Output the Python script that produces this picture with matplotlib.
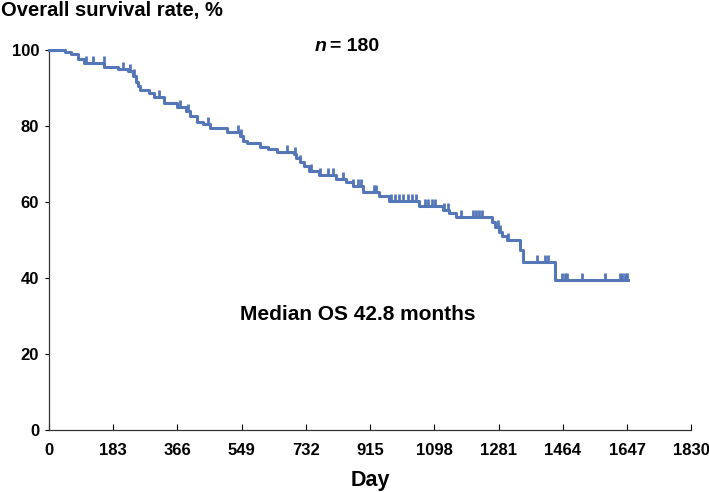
import numpy as np
import matplotlib
matplotlib.use("Agg")
import matplotlib.pyplot as plt

# Kaplan-Meier steps (day, survival % after that day)
step_days = [0, 45, 63, 82, 101, 158, 196, 224, 240, 248, 254, 260, 285, 300, 328,
             365, 390, 403, 422, 440, 459, 507, 544, 552, 564, 600, 625, 649, 697,
             705, 714, 728, 742, 770, 819, 845, 866, 895, 940, 969, 1054, 1122, 1140,
             1159, 1263, 1272, 1282, 1292, 1306, 1343, 1351, 1442, 1649]
step_surv = [100, 99.4, 98.9, 97.8, 96.7, 95.6, 95.0, 94.4, 93.3, 91.6, 90.5, 89.4,
             88.8, 87.7, 86.0, 85.0, 83.9, 82.8, 81.2, 80.6, 79.5, 78.4, 77.3, 76.2,
             75.6, 74.5, 73.9, 73.3, 72.7, 71.6, 70.5, 69.4, 68.3, 67.1, 66.0, 65.4,
             64.3, 62.7, 61.5, 60.3, 59.1, 57.9, 57.2, 56.0, 54.8, 53.5, 52.2, 51.0,
             50.0, 47.5, 44.2, 39.5, 39.5]

# censored observations (day)
censor_days = [105, 125, 156, 210, 232, 243, 314, 374, 396, 453, 540, 547, 677, 700,
               714, 748, 771, 796, 810, 838, 866, 881, 889, 926, 932, 975, 987, 998,
               1010, 1022, 1033, 1045, 1070, 1080, 1090, 1100, 1125, 1136, 1173, 1207,
               1216, 1226, 1235, 1278, 1286, 1309, 1391, 1413, 1422, 1462, 1470, 1476,
               1518, 1584, 1626, 1632, 1640, 1646]

xticks = [0, 183, 366, 549, 732, 915, 1098, 1281, 1464, 1647, 1830]
yticks = [0, 20, 40, 60, 80, 100]

plt.rcParams['font.family'] = ['Liberation Sans', 'DejaVu Sans']
plt.rcParams['font.weight'] = 'bold'

blue = '#5577b8'

fig = plt.figure(figsize=(7.09, 4.92), dpi=100)
ax = fig.add_axes([0.069, 0.126, 0.906, 0.772])

ax.step(step_days, step_surv, where='post', color=blue, lw=2.2, clip_on=False, zorder=3)

idx = np.searchsorted(step_days, censor_days, side='right') - 1
censor_surv = np.array(step_surv)[idx]
ax.plot(censor_days, censor_surv, ls='none', marker=[(0, 0), (0, 1)], ms=10,
        mec=blue, mew=2.0, clip_on=False, zorder=3)

ax.set_xlim(0, 1830)
ax.set_ylim(0, 100)
ax.set_xticks(xticks)
ax.set_yticks(yticks)
ax.tick_params(axis='x', direction='in', length=4, width=0.8, pad=9, labelsize=12)
ax.tick_params(axis='y', direction='out', length=3, width=0.8, pad=4, labelsize=12)
for s in ['top', 'right']:
    ax.spines[s].set_visible(False)
for s in ['left', 'bottom']:
    ax.spines[s].set_linewidth(0.9)
    ax.spines[s].set_color('#333333')

ax.set_xlabel('Day', fontsize=15.5, fontweight='bold', labelpad=9)

fig.text(0.001, 0.997, 'Overall survival rate, %', fontsize=14.5, fontweight='bold', va='top', ha='left')
fig.text(0.46, 0.905, 'n', fontsize=14, fontweight='bold', style='italic', ha='right', va='center')
fig.text(0.4655, 0.905, '= 180', fontsize=14, fontweight='bold', ha='left', va='center')
ax.text(0.48, 0.305, 'Median OS 42.8 months', transform=ax.transAxes, fontsize=15,
        fontweight='bold', ha='center', va='center')

fig.savefig('out.png', dpi=100)
